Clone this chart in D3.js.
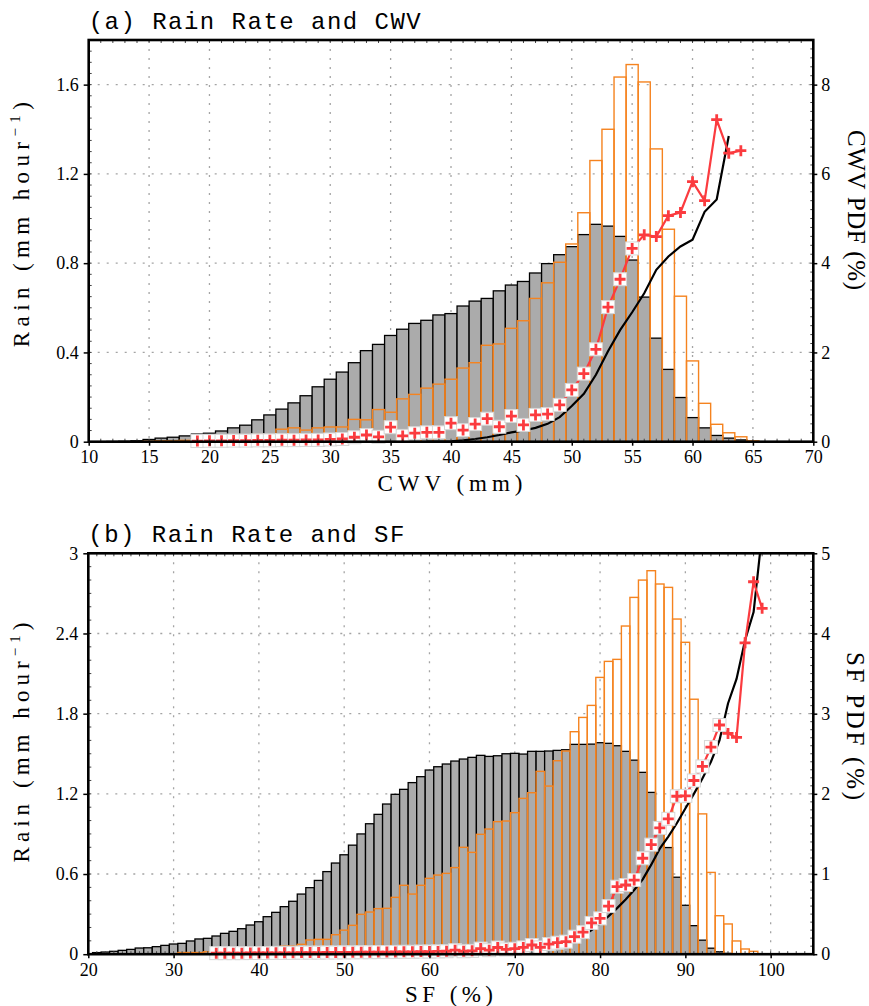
<!DOCTYPE html>
<html><head><meta charset="utf-8">
<script src="https://cdn.jsdelivr.net/npm/d3@7"></script>
<style>body{margin:0;background:#fff}svg{display:block}</style>
</head><body>
<svg id="c" width="869" height="1006"></svg>
<script>
// ---------------- Panel (a): Rain Rate and CWV ----------------
const cwvTitle = "(a) Rain Rate and CWV";
const cwvXLabel = "CWV (mm)";
const cwvPdfLabel = "CWV PDF (%)";
const cwvXTicks = [10,15,20,25,30,35,40,45,50,55,60,65,70];
const cwvXTickLabels = ["10","15","20","25","30","35","40","45","50","55","60","65","70"];
const cwvRainTicks = [0,0.4,0.8,1.2,1.6];
const cwvRainTickLabels = ["0","0.4","0.8","1.2","1.6"];
const cwvPdfTicks = [0,2,4,6,8];
const cwvPdfTickLabels = ["0","2","4","6","8"];
// gray (black-outlined) PDF bars, bins 12..64
const cwvGrayStart = 12;
const cwvGrayPdf = [0.005,0.01,0.02,0.05,0.08,0.1,0.13,0.17,0.19,0.24,0.31,0.37,0.49,0.6,0.73,0.87,1.03,1.23,1.4,1.56,
  1.77,2.04,2.18,2.38,2.52,2.65,2.72,2.84,2.87,3.04,3.15,3.21,3.38,3.51,3.59,3.78,3.99,4.19,4.37,4.64,
  4.87,4.83,4.6,4.07,3.24,2.32,1.62,0.99,0.54,0.31,0.14,0.08,0.04];
// orange (open) PDF bars, bins 15..65
const cwvOrangeStart = 15;
const cwvOrangePdf = [0.01,0.02,0.02,0.03,0.04,0.05,0.07,0.1,0.12,0.16,0.15,0.28,0.31,0.26,0.31,0.33,0.33,0.5,0.49,0.72,
  0.66,0.96,1.06,1.2,1.29,1.4,1.65,1.77,2.16,2.19,2.54,2.71,3.21,3.56,4.02,4.43,5.13,6.3,7.0,8.17,
  8.45,8.06,6.56,4.76,3.26,1.81,0.86,0.39,0.2,0.11,0.02];
// red marker rain rate, bins 19..64
const cwvRedStart = 19;
const cwvRedRain = [0.003,0.004,0.004,0.005,0.005,0.006,0.006,0.007,0.007,0.008,0.008,0.01,0.012,0.02,0.03,0.022,0.065,0.026,0.038,0.042,
  0.042,0.083,0.052,0.079,0.103,0.067,0.115,0.075,0.12,0.124,0.165,0.232,0.305,0.414,0.603,0.728,0.866,0.927,0.919,1.013,
  1.027,1.165,1.08,1.443,1.293,1.304];
const cwvBoxedMax = 55;
// black line rain rate, bins 38..63
const cwvBlackStart = 38;
const cwvBlackRain = [0,0.001,0.002,0.006,0.012,0.02,0.03,0.042,0.05,0.062,0.08,0.11,0.16,0.215,0.3,0.405,0.5,0.58,0.665,0.77,
  0.83,0.875,0.905,1.03,1.085,1.37];

// ---------------- Panel (b): Rain Rate and SF ----------------
const sfTitle = "(b) Rain Rate and SF";
const sfXLabel = "SF (%)";
const sfPdfLabel = "SF PDF (%)";
const sfXTicks = [20,30,40,50,60,70,80,90,100];
const sfXTickLabels = ["20","30","40","50","60","70","80","90","100"];
const sfRainTicks = [0,0.6,1.2,1.8,2.4,3];
const sfRainTickLabels = ["0","0.6","1.2","1.8","2.4","3"];
const sfPdfTicks = [0,1,2,3,4,5];
const sfPdfTickLabels = ["0","1","2","3","4","5"];
// gray PDF bars, bins 21..95
const sfGrayStart = 21;
const sfGrayPdf = [0.02,0.027,0.036,0.048,0.06,0.077,0.08,0.094,0.11,0.127,0.135,0.165,0.19,0.198,0.227,0.26,0.285,0.318,0.364,0.405,
  0.468,0.522,0.593,0.66,0.75,0.83,0.92,1.03,1.137,1.24,1.36,1.5,1.627,1.744,1.873,1.994,2.056,2.14,2.214,2.297,
  2.338,2.372,2.409,2.434,2.455,2.48,2.467,2.475,2.5,2.505,2.496,2.53,2.53,2.534,2.542,2.55,2.617,2.617,2.62,2.638,
  2.63,2.6,2.53,2.42,2.268,2.018,1.65,1.33,0.96,0.61,0.356,0.175,0.075,0.03,0.01];
// orange PDF bars, bins 30..98
const sfOrangeStart = 30;
const sfOrangePdf = [0.005,0.02,0.02,0.02,0.03,0.03,0.04,0.07,0.07,0.05,0.06,0.07,0.07,0.1,0.1,0.123,0.177,0.185,0.185,0.243,
  0.3,0.36,0.497,0.526,0.568,0.572,0.709,0.859,0.75,0.859,0.946,0.987,1.008,1.08,1.333,1.27,1.495,1.561,1.653,1.661,
  1.765,1.943,2.014,2.28,2.097,2.413,2.534,2.775,2.953,3.103,3.452,3.652,3.677,4.093,4.45,4.666,4.783,4.617,4.575,4.18,
  3.89,3.18,1.75,1.02,0.48,0.377,0.165,0.065,0.036];
// red marker rain rate, bins 35..99
const sfRedStart = 35;
const sfRedRain = [0.008,0.008,0.008,0.008,0.009,0.009,0.009,0.01,0.01,0.01,0.012,0.012,0.012,0.013,0.013,0.014,0.014,0.015,0.015,0.016,
  0.016,0.017,0.018,0.018,0.02,0.02,0.021,0.022,0.03,0.022,0.025,0.042,0.03,0.05,0.036,0.041,0.051,0.069,0.051,0.076,
  0.086,0.094,0.131,0.165,0.234,0.268,0.36,0.505,0.518,0.555,0.718,0.82,0.945,1.013,1.182,1.185,1.3,1.405,1.55,1.715,
  1.652,1.622,2.33,2.787,2.588];
const sfBoxedMax = 94;
// black line rain rate, bins 45..99
const sfBlackStart = 45;
const sfBlackRain = [0.001,0.001,0.001,0.002,0.002,0.002,0.003,0.003,0.003,0.004,0.004,0.005,0.005,0.006,0.006,0.007,0.008,0.009,0.01,0.011,
  0.012,0.014,0.016,0.018,0.021,0.025,0.03,0.037,0.045,0.056,0.07,0.088,0.11,0.14,0.18,0.23,0.285,0.345,0.41,0.48,
  0.56,0.67,0.79,0.88,0.98,1.09,1.2,1.315,1.44,1.6,1.876,2.06,2.35,2.56,3.15];

const rainLabel = "Rain (mm hour";

// ---------------- drawing ----------------
const svg = d3.select("#c");
const defs = svg.append("defs");
const RED = "#fb3b3f", ORANGE = "#f5831f", GRAY = "#ababab";
const tickFont = "'Liberation Serif', 'Times New Roman', serif";
const labelFont = "'Liberation Serif', 'Times New Roman', serif";

function series(start, vals) { return vals.map((v, i) => ({k: start + i, v})); }

function drawPanel(p) {
  const x = d3.scaleLinear().domain(p.xDomain).range([p.L, p.R]);
  const yL = d3.scaleLinear().domain([0, p.rainMax]).range([p.B, p.T]);
  const yR = d3.scaleLinear().domain([0, p.pdfMax]).range([p.B, p.T]);
  const g = svg.append("g");
  const cid = "clip-" + p.id;
  defs.append("clipPath").attr("id", cid).append("rect")
    .attr("x", p.L).attr("y", p.T).attr("width", p.R - p.L).attr("height", p.B - p.T);

  // grid
  const grid = g.append("g").attr("stroke", "#a4a4a4").attr("stroke-width", 1.3).attr("stroke-dasharray", "2,7");
  grid.selectAll("line.gx").data(p.xTicks.filter(d => d > p.xDomain[0] && d < p.xDomain[1])).join("line")
    .attr("class", "gx").attr("x1", d => x(d)).attr("x2", d => x(d)).attr("y1", p.T).attr("y2", p.B);
  grid.selectAll("line.gy").data(p.rainTicks.filter(d => d > 0 && d < p.rainMax)).join("line")
    .attr("class", "gy").attr("y1", d => yL(d)).attr("y2", d => yL(d)).attr("x1", p.L).attr("x2", p.R);

  // gray bars
  g.append("g").selectAll("rect").data(series(p.grayStart, p.gray)).join("rect")
    .attr("x", d => x(d.k - 0.5)).attr("width", d => x(d.k + 0.5) - x(d.k - 0.5))
    .attr("y", d => yR(d.v)).attr("height", d => p.B - yR(d.v))
    .attr("fill", GRAY).attr("stroke", "#000").attr("stroke-width", 1.3);
  // orange open bars
  g.append("g").selectAll("rect").data(series(p.orangeStart, p.orange)).join("rect")
    .attr("x", d => x(d.k - 0.5)).attr("width", d => x(d.k + 0.5) - x(d.k - 0.5))
    .attr("y", d => yR(d.v)).attr("height", d => p.B - yR(d.v))
    .attr("fill", "none").attr("stroke", ORANGE).attr("stroke-width", 1.4);

  // black line
  const line = d3.line().x(d => x(d.k)).y(d => yL(d.v));
  g.append("path").datum(series(p.blackStart, p.black)).attr("d", line)
    .attr("fill", "none").attr("stroke", "#000").attr("stroke-width", 2.2)
    .attr("clip-path", `url(#${cid})`);
  // red line + markers
  const red = series(p.redStart, p.red);
  g.append("path").datum(red).attr("d", line)
    .attr("fill", "none").attr("stroke", RED).attr("stroke-width", 2.2);
  g.append("g").selectAll("rect").data(red.filter(d => d.k <= p.boxedMax)).join("rect")
    .attr("x", d => x(d.k) - 6.5).attr("y", d => yL(d.v) - 6.5).attr("width", 13).attr("height", 13)
    .attr("fill", "#fff").attr("stroke", "#d6d6d6").attr("stroke-width", 1);
  g.append("g").selectAll("path").data(red).join("path")
    .attr("transform", d => `translate(${x(d.k)},${yL(d.v)})`)
    .attr("d", "M-5.5,0H5.5M0,-5.5V5.5")
    .attr("stroke", RED).attr("stroke-width", 2.8).attr("fill", "none");

  // minor ticks (inward)
  const mt = g.append("g").attr("stroke", "#444").attr("stroke-width", 1);
  mt.selectAll("line.mb").data(x.ticks(p.xMinorCount)).join("line").attr("class", "mb")
    .attr("x1", d => x(d)).attr("x2", d => x(d)).attr("y1", p.B).attr("y2", p.B - 3);
  mt.selectAll("line.mtp").data(x.ticks(p.xMinorCount)).join("line").attr("class", "mtp")
    .attr("x1", d => x(d)).attr("x2", d => x(d)).attr("y1", p.T).attr("y2", p.T + 3);
  mt.selectAll("line.ml").data(yL.ticks(p.yMinorCount)).join("line").attr("class", "ml")
    .attr("x1", p.L).attr("x2", p.L + 3).attr("y1", d => yL(d)).attr("y2", d => yL(d));
  mt.selectAll("line.mr").data(yR.ticks(p.pdfMinorCount)).join("line").attr("class", "mr")
    .attr("x1", p.R).attr("x2", p.R - 3).attr("y1", d => yR(d)).attr("y2", d => yR(d));

  // axes
  const axL = g.append("g").attr("transform", `translate(${p.L},0)`)
    .call(d3.axisLeft(yL).tickValues(p.rainTicks).tickFormat((d, i) => p.rainTickLabels[i]).tickSize(5).tickPadding(5));
  const axB = g.append("g").attr("transform", `translate(0,${p.B})`)
    .call(d3.axisBottom(x).tickValues(p.xTicks).tickFormat((d, i) => p.xTickLabels[i]).tickSize(4).tickPadding(5));
  const axR = g.append("g").attr("transform", `translate(${p.R},0)`)
    .call(d3.axisRight(yR).tickValues(p.pdfTicks).tickFormat((d, i) => p.pdfTickLabels[i]).tickSize(4).tickPadding(4));
  [axL, axB, axR].forEach(a => {
    a.select(".domain").remove();
    a.selectAll("line").attr("stroke", "#000").attr("stroke-width", 1.5);
    a.selectAll("text").attr("font-family", tickFont).attr("font-size", 18).attr("fill", "#000");
  });

  // frame
  g.append("rect").attr("x", p.L).attr("y", p.T).attr("width", p.R - p.L).attr("height", p.B - p.T)
    .attr("fill", "none").attr("stroke", "#000").attr("stroke-width", 2.6);

  // title
  g.append("text").attr("x", p.L).attr("y", p.T - 11).text(p.title)
    .attr("font-family", "'Liberation Mono', 'Courier New', monospace").attr("font-size", 24)
    .attr("textLength", p.titleLen).attr("lengthAdjust", "spacing");

  // x label
  g.append("text").attr("x", p.xLabelX).attr("y", p.xLabelY).attr("text-anchor", "middle").text(p.xLabel)
    .attr("font-family", labelFont).attr("font-size", 23)
    .attr("textLength", p.xLabelLen).attr("lengthAdjust", "spacing");

  // left label with superscript
  const lt = g.append("text").attr("transform", `translate(29,${p.leftLabelY}) rotate(-90)`)
    .attr("text-anchor", "middle").attr("font-family", labelFont).attr("font-size", 23);
  lt.append("tspan").text(rainLabel);
  lt.append("tspan").attr("dy", -9).attr("font-size", 15).text("\u22121");
  lt.append("tspan").attr("dy", 9).text(")");
  const n = lt.node().getNumberOfChars();
  const w = lt.node().getComputedTextLength();
  lt.attr("letter-spacing", (p.leftLabelLen - w) / (n - 1));

  // right label
  g.append("text").attr("transform", `translate(${p.rightLabelX},${p.rightLabelY}) rotate(90)`)
    .attr("text-anchor", "middle").text(p.pdfLabel)
    .attr("font-family", labelFont).attr("font-size", 25)
    .attr("textLength", p.rightLabelLen).attr("lengthAdjust", "spacing");
}

drawPanel({
  id: "a", L: 88.7, R: 813.3, T: 40, B: 441.7,
  xDomain: [10, 70], xTicks: cwvXTicks, xTickLabels: cwvXTickLabels,
  rainMax: 1.8, rainTicks: cwvRainTicks, rainTickLabels: cwvRainTickLabels,
  pdfMax: 9, pdfTicks: cwvPdfTicks, pdfTickLabels: cwvPdfTickLabels,
  grayStart: cwvGrayStart, gray: cwvGrayPdf, orangeStart: cwvOrangeStart, orange: cwvOrangePdf,
  redStart: cwvRedStart, red: cwvRedRain, boxedMax: cwvBoxedMax,
  blackStart: cwvBlackStart, black: cwvBlackRain,
  xMinorCount: 60, yMinorCount: 36, pdfMinorCount: 36,
  title: cwvTitle, titleLen: 332,
  xLabel: cwvXLabel, xLabelX: 450, xLabelY: 491, xLabelLen: 145,
  leftLabelY: 222, leftLabelLen: 245,
  pdfLabel: cwvPdfLabel, rightLabelX: 848, rightLabelY: 210, rightLabelLen: 160
});
drawPanel({
  id: "b", L: 88.3, R: 813.3, T: 553.3, B: 954.2,
  xDomain: [20, 105], xTicks: sfXTicks, xTickLabels: sfXTickLabels,
  rainMax: 3, rainTicks: sfRainTicks, rainTickLabels: sfRainTickLabels,
  pdfMax: 5, pdfTicks: sfPdfTicks, pdfTickLabels: sfPdfTickLabels,
  grayStart: sfGrayStart, gray: sfGrayPdf, orangeStart: sfOrangeStart, orange: sfOrangePdf,
  redStart: sfRedStart, red: sfRedRain, boxedMax: sfBoxedMax,
  blackStart: sfBlackStart, black: sfBlackRain,
  xMinorCount: 85, yMinorCount: 30, pdfMinorCount: 50,
  title: sfTitle, titleLen: 316,
  xLabel: sfXLabel, xLabelX: 449, xLabelY: 1002, xLabelLen: 88,
  leftLabelY: 740, leftLabelLen: 240,
  pdfLabel: sfPdfLabel, rightLabelX: 847, rightLabelY: 726, rightLabelLen: 148
});
</script>
</body></html>
